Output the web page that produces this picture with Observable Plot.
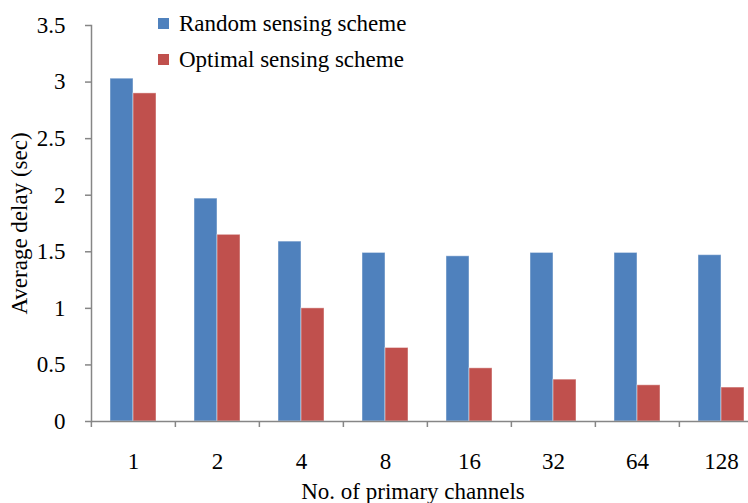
<!DOCTYPE html>
<html><head><meta charset="utf-8">
<script src="https://cdn.jsdelivr.net/npm/d3@7"></script>
<script src="https://cdn.jsdelivr.net/npm/@observablehq/plot@0.6"></script>
<style>
html,body{margin:0;padding:0;background:#fff;overflow:hidden;}
#wrap{position:relative;width:748px;height:503px;overflow:hidden;font-family:"Liberation Serif","Times New Roman",Times,serif;}
.row{position:absolute;left:158px;height:23px;line-height:23px;font-size:23px;color:#000;white-space:nowrap;}
.sw{position:absolute;left:0;top:6px;width:11px;height:11px;}
.lbl{position:absolute;left:21px;top:0;}
.xtitle{position:absolute;left:0;width:826px;top:480px;height:23px;line-height:23px;font-size:23px;color:#000;text-align:center;white-space:nowrap;}
</style></head><body><div id="wrap"></div>
<script>
const channels = ["1","2","4","8","16","32","64","128"];
const seriesNames = ["Random sensing scheme","Optimal sensing scheme"];
const randomDelay = [3.03,1.97,1.59,1.49,1.46,1.49,1.49,1.47];
const optimalDelay = [2.90,1.65,1.00,0.65,0.47,0.37,0.32,0.30];
const yTicks = [0,0.5,1,1.5,2,2.5,3,3.5];
const yTickLabels = ["0","0.5","1","1.5","2","2.5","3","3.5"];
const yTitle = "Average delay (sec)";
const xTitle = "No. of primary channels";
const colors = ["#4F81BD","#C0504D"];

const data = channels.flatMap((c,i)=>[
  {channel:c, series:seriesNames[0], delay:randomDelay[i]},
  {channel:c, series:seriesNames[1], delay:optimalDelay[i]}
]);

const chart = Plot.plot({
  width:748, height:503, marginLeft:90, marginRight:-16, marginTop:25, marginBottom:82,
  style:{fontFamily:'"Liberation Serif","Times New Roman",Times,serif', fontSize:"23px", color:"#000", background:"#fff"},
  fx:{domain:channels, padding:0, axis:null},
  x:{domain:seriesNames, paddingInner:0, paddingOuter:0.77, axis:null},
  y:{domain:[0,3.5], axis:null},
  color:{domain:seriesNames, range:colors},
  marks:[
    Plot.barY(data,{fx:"channel", x:"series", y:"delay", fill:"series", stroke:"#ffffff", strokeOpacity:0.45, strokeWidth:1}),
    Plot.ruleY([0],{stroke:"#868686", strokeWidth:1.5}),
    Plot.frame({anchor:"left", facetAnchor:"left", stroke:"#868686", strokeWidth:1.5}),
    Plot.axisY({ticks:yTicks, tickFormat:(d)=>yTickLabels[yTicks.indexOf(d)], tickSize:6, tickPadding:20, stroke:"#868686", strokeWidth:1.5, fill:"#000",
      label:yTitle, labelAnchor:"center", labelOffset:81, labelArrow:"none"}),
    Plot.axisFx({anchor:"bottom", tickSize:0, tickPadding:31, fill:"#000", label:null}),
    Plot.axisFx({anchor:"bottom", tickSize:6, dx:-42.125, tickFormat:()=>"", label:null, stroke:"#868686", strokeWidth:1.5})
  ]
});
const wrap = document.getElementById("wrap");
wrap.appendChild(chart);

const tops = [12, 48];
seriesNames.forEach((s,i)=>{
  const row = document.createElement("div");
  row.className = "row";
  row.style.top = tops[i] + "px";
  const sw = document.createElement("div");
  sw.className = "sw"; sw.style.background = colors[i];
  const lb = document.createElement("div");
  lb.className = "lbl"; lb.textContent = s;
  row.appendChild(sw); row.appendChild(lb);
  wrap.appendChild(row);
});
const xt = document.createElement("div");
xt.className = "xtitle"; xt.textContent = xTitle;
wrap.appendChild(xt);
</script>
</body></html>
